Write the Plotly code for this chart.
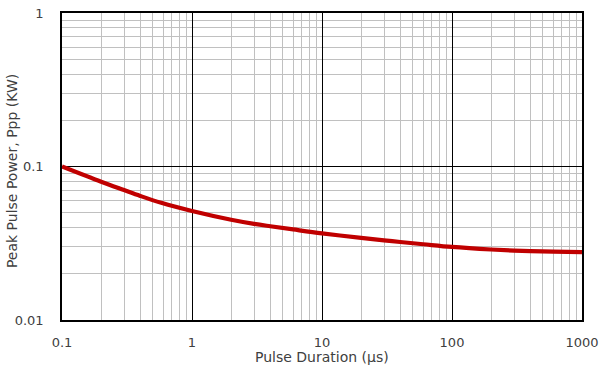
import plotly.graph_objects as go

pulse_us = [0.1, 0.2, 0.3, 0.4, 0.58, 1, 2, 3, 4, 6, 10, 20, 30, 40, 60, 100, 200, 300, 400, 600, 1000]
ppp_kw = [0.1000, 0.0796, 0.0702, 0.0643, 0.0580, 0.0513, 0.04500, 0.04230, 0.04080, 0.03890, 0.03670,
          0.03428, 0.03303, 0.03221, 0.03116, 0.02992, 0.02880, 0.02834, 0.02810, 0.02788, 0.02770]

x_ticks = [0.1, 1, 10, 100, 1000]
x_ticktext = ["0.1", "1", "10", "100", "1000"]
y_ticks = [0.01, 0.1, 1]
y_ticktext = ["0.01", "0.1", "1"]
x_title = "Pulse Duration (µs)"
y_title = "Peak Pulse Power, Ppp (KW)"

font_fam = "DejaVu Sans, sans-serif"
txt_col = "#404040"
tick_size = 13
title_size = 14

fig = go.Figure()
fig.add_trace(go.Scatter(
    x=pulse_us, y=ppp_kw, mode="lines",
    line=dict(color="#c00000", width=4.2, shape="spline", smoothing=1.0),
    showlegend=False, hoverinfo="skip",
))

axis_common = dict(
    type="log", automargin=False,
    showline=True, linecolor="black", linewidth=1.5, mirror=True,
    showgrid=True, gridcolor="black", gridwidth=1,
    ticks="", zeroline=False,
    tickfont=dict(family=font_fam, size=tick_size, color=txt_col),
    minor=dict(showgrid=True, gridcolor="#c0c0c0", gridwidth=1.3, dtick="D1", ticks=""),
)

fig.update_layout(
    width=603, height=374,
    margin=dict(l=62, r=21, t=13, b=54),
    paper_bgcolor="white", plot_bgcolor="white",
    font=dict(family=font_fam, size=tick_size, color=txt_col),
    xaxis=dict(**axis_common, range=[-1, 3], tickvals=x_ticks, ticktext=x_ticktext,
               ticklabelstandoff=10),
    yaxis=dict(**axis_common, range=[-2, 0], tickvals=y_ticks, ticktext=y_ticktext,
               ticklabelstandoff=14),
    annotations=[
        dict(text=x_title, xref="paper", yref="paper", x=0.5, y=0,
             xanchor="center", yanchor="middle", yshift=-37, showarrow=False,
             font=dict(family=font_fam, size=title_size, color=txt_col)),
        dict(text=y_title, xref="paper", yref="paper", x=0, y=0.485,
             xanchor="center", yanchor="middle", xshift=-50, textangle=-90, showarrow=False,
             font=dict(family=font_fam, size=title_size, color=txt_col)),
    ],
)

fig.write_html("out.html", config={"displayModeBar": False},
               post_script="document.body.style.margin='0px';")
